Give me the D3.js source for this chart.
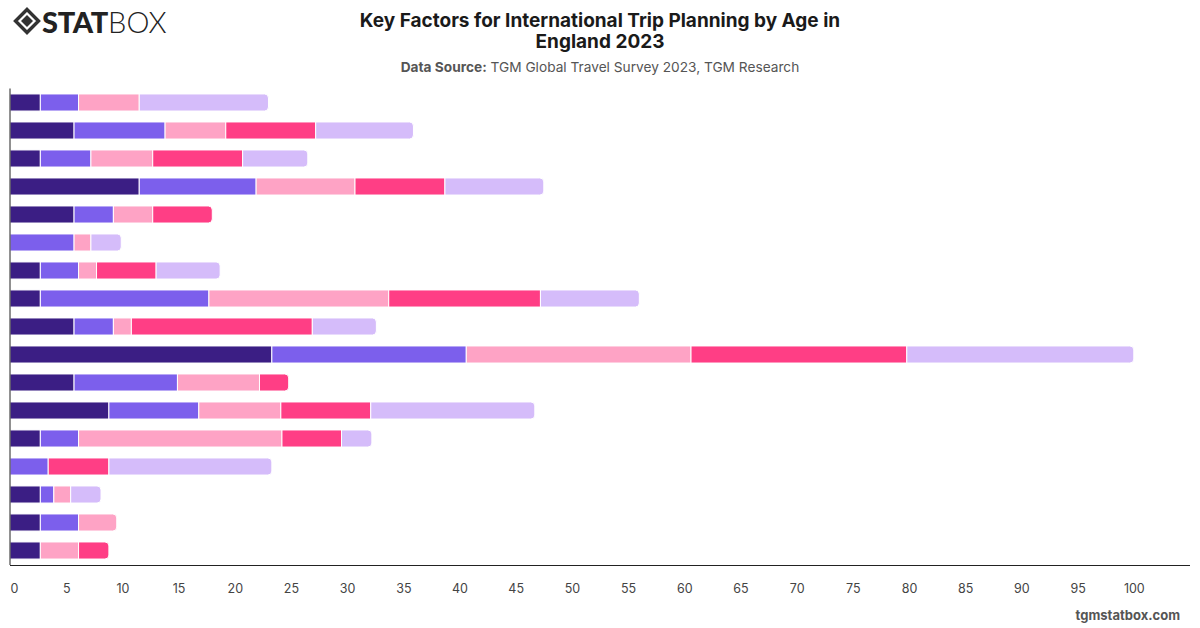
<!DOCTYPE html>
<html>
<head>
<meta charset="utf-8">
<script src="https://cdn.jsdelivr.net/npm/d3@7"></script>
<style>
  html, body { margin: 0; padding: 0; background: #fff; }
  svg { display: block; font-family: Inter, "Noto Sans", sans-serif; }
</style>
</head>
<body>
<svg id="chart" width="1200" height="628"></svg>
<script>
// ---- data ----
const categories = ["Factor 1","Factor 2","Factor 3","Factor 4","Factor 5","Factor 6","Factor 7","Factor 8","Factor 9",
  "Factor 10","Factor 11","Factor 12","Factor 13","Factor 14","Factor 15","Factor 16","Factor 17"];
const seriesNames = ["18-24","25-34","35-44","45-54","55+"];
const s1824 = [2.7, 5.7, 2.7, 11.5, 5.7, 0,   2.7, 2.7, 5.7, 23.3, 5.7, 8.8, 2.7, 0,   2.7, 2.7, 2.7];
const s2534 = [3.4, 8.1, 4.5, 10.4, 3.5, 5.7, 3.4, 15.0, 3.5, 17.3, 9.2, 8.0, 3.4, 3.4, 1.2, 3.4, 0];
const s3544 = [5.4, 5.4, 5.5, 8.8, 3.5, 1.5, 1.6, 16.0, 1.6, 20.0, 7.3, 7.3, 18.1, 0, 1.5, 3.4, 3.4];
const s4554 = [0,   8.0, 8.0, 8.0, 5.3, 0,   5.3, 13.5, 16.1, 19.2, 2.6, 8.0, 5.3, 5.4, 0, 0, 2.7];
const s55   = [11.5, 8.7, 5.8, 8.8, 0,  2.7, 5.7, 8.8, 5.7, 20.2, 0,  14.6, 2.7, 14.5, 2.7, 0, 0];
const xTicks = [0,5,10,15,20,25,30,35,40,45,50,55,60,65,70,75,80,85,90,95,100];
const colors = ["#3b1e84", "#7c5fec", "#fea3c5", "#ff3e85", "#d5bcfa"];

const seriesValues = [s1824, s2534, s3544, s4554, s55];
const table = categories.map((c, i) => {
  const row = { category: c };
  seriesNames.forEach((s, k) => row[s] = seriesValues[k][i]);
  return row;
});

// ---- layout ----
const svg = d3.select("#chart");
const plotLeft = 10, plotRight = 1190, plotTop = 88.5, plotBottom = 565;

const x = d3.scaleLinear().domain([0, 105]).range([plotLeft, plotRight]);
const y = d3.scaleBand().domain(categories).range([plotTop, plotTop + 476]).paddingInner(0.39).paddingOuter(0.195);

const stacked = d3.stack().keys(seriesNames)(table);

// last non-zero segment per row
const lastKey = {};
table.forEach(r => {
  let lk = null;
  seriesNames.forEach(s => { if (r[s] > 0) lk = s; });
  lastKey[r.category] = lk;
});

function roundedRight(x0, y0, w, h, r) {
  r = Math.min(r, w, h / 2);
  return `M${x0},${y0}H${x0 + w - r}Q${x0 + w},${y0} ${x0 + w},${y0 + r}V${y0 + h - r}Q${x0 + w},${y0 + h} ${x0 + w - r},${y0 + h}H${x0}Z`;
}

const g = svg.append("g");
stacked.forEach((layer, k) => {
  const key = layer.key;
  g.append("g").selectAll("path")
    .data(layer.filter(d => d[1] - d[0] > 0))
    .join("path")
    .attr("fill", colors[k])
    .attr("stroke", "#fff")
    .attr("stroke-width", 1)
    .attr("d", d => {
      const x0 = x(d[0]), w = x(d[1]) - x(d[0]);
      const y0 = y(d.data.category), h = y.bandwidth();
      if (lastKey[d.data.category] === key) return roundedRight(x0, y0, w, h, 4);
      return `M${x0},${y0}H${x0 + w}V${y0 + h}H${x0}Z`;
    });
});

// axes lines
svg.append("line").attr("x1", plotLeft).attr("x2", plotLeft).attr("y1", plotTop).attr("y2", plotBottom)
  .attr("stroke", "#222").attr("stroke-width", 1);
const xAxis = d3.axisBottom(x).tickValues(xTicks).tickSize(0).tickPadding(19);
const ax = svg.append("g").attr("transform", `translate(0,${plotBottom})`).call(xAxis);
ax.select(".domain").attr("stroke", "#222").attr("d", `M${plotLeft},0.5H${plotRight}`);
ax.selectAll("text").attr("font-size", 12.5).attr("fill", "#444")
  .attr("font-family", "Inter, 'Noto Sans', sans-serif");
ax.selectAll("text").filter(d => d === 0).attr("dx", 4);

// title
svg.append("text").attr("x", 600).attr("y", 27).attr("text-anchor", "middle")
  .attr("font-size", 19).attr("font-weight", 700).attr("fill", "#1a1a1a")
  .text("Key Factors for International Trip Planning by Age in");
svg.append("text").attr("x", 600).attr("y", 48).attr("text-anchor", "middle")
  .attr("font-size", 19).attr("font-weight", 700).attr("fill", "#1a1a1a")
  .text("England 2023");
const sub = svg.append("text").attr("x", 600).attr("y", 72).attr("text-anchor", "middle")
  .attr("font-size", 13.7).attr("fill", "#555");
sub.append("tspan").attr("font-weight", 700).text("Data Source:");
sub.append("tspan").text(" TGM Global Travel Survey 2023, TGM Research");

// footer
svg.append("text").attr("x", 1180).attr("y", 620).attr("text-anchor", "end")
  .attr("font-size", 13).attr("font-weight", 700).attr("fill", "#555").text("tgmstatbox.com");

// logo
const logo = svg.append("g").attr("transform", "translate(15,9)");
logo.append("path").attr("d", "M12,0.5 L23.5,12 L12,23.5 L0.5,12 Z").attr("fill", "none").attr("stroke", "#333").attr("stroke-width", 3.4);
logo.append("path").attr("d", "M12,6 L18,12 L12,18 L6,12 Z").attr("fill", "#333");
const lt = logo.append("text").attr("x", 27).attr("y", 24).attr("font-size", 29)
  .attr("font-family", "Lato, 'Open Sans', sans-serif").attr("fill", "#222");
lt.append("tspan").attr("font-weight", 900).attr("letter-spacing", -0.3).text("STAT");
lt.append("tspan").attr("font-weight", 300).text("BOX");
</script>
</body>
</html>
